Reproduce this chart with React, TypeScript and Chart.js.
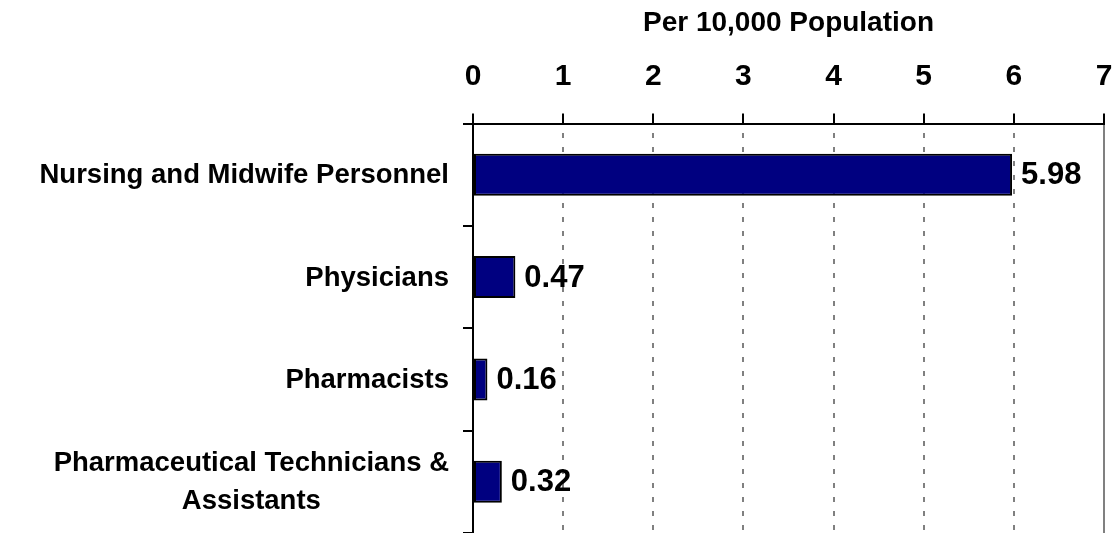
import { useEffect, useRef } from "react";
import { Chart, registerables } from "chart.js";

Chart.register(...registerables);

const categories: (string | string[])[] = [
  "Nursing and Midwife Personnel",
  "Physicians",
  "Pharmacists",
  ["Pharmaceutical Technicians &", "Assistants"],
];
const values: number[] = [5.98, 0.47, 0.16, 0.32];
const xTickValues: number[] = [0, 1, 2, 3, 4, 5, 6, 7];
const axisTitle = "Per 10,000 Population";

const FONT = "'Liberation Sans', Arial, Helvetica, sans-serif";

const categoryLabelPlugin = {
  id: "categoryLabels",
  afterDraw(chart: any) {
    const ctx = chart.ctx;
    const yScale = chart.scales.y;
    const right = chart.chartArea.left - 24;
    const lineH = 38;
    ctx.save();
    ctx.fillStyle = "#000";
    ctx.font = `bold 27.5px ${FONT}`;
    ctx.textBaseline = "middle";
    ctx.textAlign = "center";
    categories.forEach((lab, i) => {
      const lines = Array.isArray(lab) ? lab : [lab];
      const maxW = Math.max(...lines.map((l) => ctx.measureText(l).width));
      const cx = right - maxW / 2;
      const cy = yScale.getPixelForTick(i) + 1;
      lines.forEach((l, j) => {
        ctx.fillText(l, cx, cy + (j - (lines.length - 1) / 2) * lineH);
      });
    });
    ctx.restore();
  },
};

const valueLabelPlugin = {
  id: "valueLabels",
  afterDatasetsDraw(chart: any) {
    const ctx = chart.ctx;
    const meta = chart.getDatasetMeta(0);
    ctx.save();
    ctx.fillStyle = "#000";
    ctx.font = `bold 31px ${FONT}`;
    ctx.textBaseline = "middle";
    ctx.textAlign = "left";
    meta.data.forEach((bar: any, i: number) => {
      ctx.fillText(values[i].toFixed(2), bar.x + 9, bar.y + 1);
    });
    ctx.restore();
  },
};

export default function App() {
  const ref = useRef<HTMLCanvasElement>(null);

  useEffect(() => {
    if (!ref.current) return;
    const chart = new Chart(ref.current, {
      type: "bar",
      data: {
        labels: categories as any,
        datasets: [
          {
            data: values,
            backgroundColor: "#000080",
            borderColor: "#000000",
            borderWidth: 2,
            borderSkipped: false,
            categoryPercentage: 1,
            barPercentage: 0.41,
          },
        ],
      },
      options: {
        indexAxis: "y",
        animation: false,
        responsive: false,
        devicePixelRatio: 1,
        layout: { padding: { top: 0, right: 11, bottom: 0, left: 0 } },
        plugins: {
          legend: { display: false },
          tooltip: { enabled: false },
        },
        scales: {
          x: {
            position: "top",
            min: xTickValues[0],
            max: xTickValues[xTickValues.length - 1],
            ticks: {
              stepSize: 1,
              color: "#000",
              font: { family: FONT, size: 30, weight: "bold" },
              padding: 18.5,
            },
            grid: {
              color: (c: any) => (c.index === 0 ? "rgba(0,0,0,0)" : "#808080"),
              lineWidth: 2,
              tickColor: "#000",
              tickWidth: 2,
              tickLength: 10,
            },
            border: {
              color: "#000",
              width: 2,
              dash: (c: any) =>
                c.type === "tick" && c.index !== xTickValues.length - 1 ? [5, 9] : [],
              dashOffset: -8,
            },
            title: {
              display: true,
              text: axisTitle,
              color: "#000",
              font: { family: FONT, size: 28, weight: "bold" },
              padding: { top: 6, bottom: 0 },
            },
            afterFit: (s: any) => {
              s.height = 123.5;
              s.paddingLeft = 0;
              s.paddingRight = 0;
            },
          },
          y: {
            ticks: { display: false },
            grid: {
              drawOnChartArea: false,
              color: "#000",
              lineWidth: 2,
              tickLength: 10,
              offset: true,
            },
            border: { color: "#000", width: 2 },
            afterFit: (s: any) => {
              s.width = 473;
            },
          },
        },
      } as any,
      plugins: [categoryLabelPlugin, valueLabelPlugin],
    });
    return () => chart.destroy();
  }, []);

  return (
    <div style={{ position: "fixed", left: 0, top: 0, width: 1115, height: 533, background: "#fff" }}>
      <canvas ref={ref} width={1115} height={533} style={{ display: "block" }} />
    </div>
  );
}
